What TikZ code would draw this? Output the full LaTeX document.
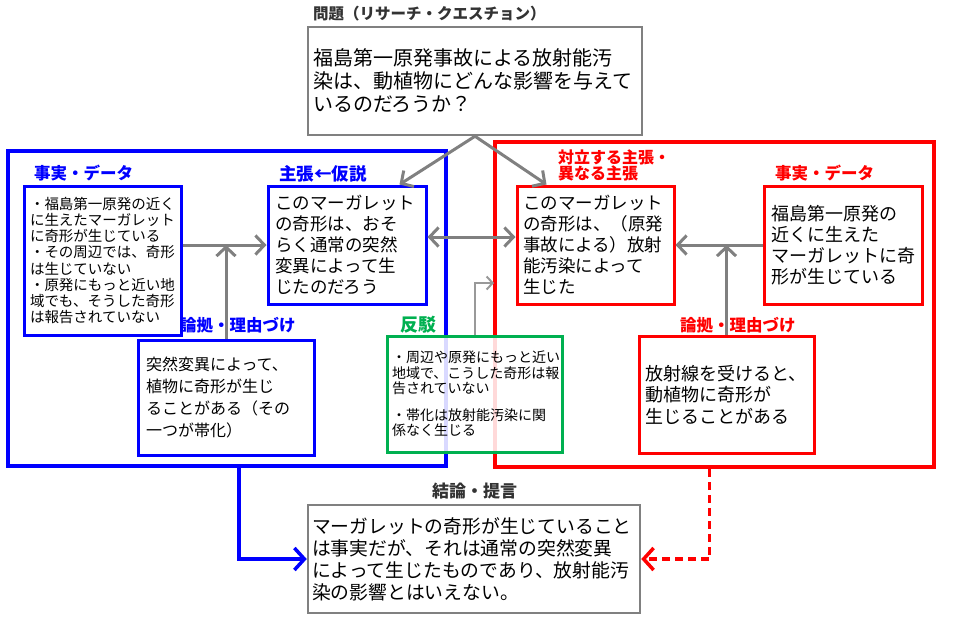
\documentclass[tikz,border=0pt]{standalone}
\usepackage{fontspec}
\setmainfont{Noto Sans CJK JP}
\usetikzlibrary{arrows.meta,positioning}
\definecolor{linkgray}{RGB}{128,128,128}
\definecolor{rebutgreen}{RGB}{0,176,80}
\definecolor{titlegray}{RGB}{51,51,51}
\tikzset{every frame/.style={line width=4pt, minimum height=315pt},
        support frame/.style={every frame, draw=blue, minimum width=438pt},
        oppose frame/.style={every frame, draw=red, minimum width=439pt, minimum height=325pt},
        every box/.style={fill=white, align=left, line width=3pt, inner sep=0pt},
        gray box/.style={every box, draw=linkgray, line width=2.5pt},
        support box/.style={every box, draw=blue},
        oppose box/.style={every box, draw=red},
        rebuttal box/.style={every box, draw=rebutgreen, fill opacity=0.85, text opacity=1},
        heading/.style={anchor=west, align=left, inner sep=0pt, font=\bfseries\fontsize{16.5}{16.5}\selectfont},
        link/.style={draw=linkgray, line width=3pt, -{Straight Barb[length=9pt,width=19pt]}},
        }

\begin{document}
\begin{tikzpicture}[x=1pt,y=-1pt]
    \useasboundingbox (0,0) rectangle (953,638);

    \node[support frame] (supportframe) at (227,308) {};
    \node[oppose frame] (opposeframe) at (714.5,304.5) {};

    \node[heading, text=titlegray, font=\bfseries\fontsize{15.5}{15.5}\selectfont] (questionhead) at (313,14) {問題（リサーチ・クエスチョン）};
    \node[gray box, minimum width=334pt, minimum height=108pt, text width=324pt,
          font=\fontsize{20}{23}\selectfont] (question) at (475,81)
        {福島第一原発事故による放射能汚\\染は、動植物にどんな影響を与えて\\いるのだろうか？};

    \node[heading, text=blue] (facthead) at (34,173) {事実・データ};
    \node[support box, minimum width=157pt, minimum height=149pt, text width=145pt,
          font=\fontsize{14.5}{16.2}\selectfont] (fact) at (102.5,260.5)
        {・福島第一原発の近く\\に生えたマーガレット\\に奇形が生じている\\・その周辺では、奇形\\は生じていない\\・原発にもっと近い地\\域でも、そうした奇形\\は報告されていない};

    \node[heading, text=blue, font=\bfseries\fontsize{17.5}{17.5}\selectfont] (claimhead) at (279,174) {主張←仮説};
    \node[support box, minimum width=158pt, minimum height=118pt, text width=144pt,
          font=\fontsize{17.5}{21}\selectfont] (claim) at (347,245)
        {このマーガレット\\の奇形は、おそ\\らく通常の突然\\変異によって生\\じたのだろう};

    \node[heading, text=blue] (warranthead) at (180,325) {論拠・理由づけ};
    \node[support box, minimum width=176pt, minimum height=115pt, text width=160pt,
          font=\fontsize{16}{22}\selectfont] (warrant) at (226,397.5)
        {突然変異によって、\\植物に奇形が生じ\\ることがある（その\\一つが帯化）};

    \node[heading, text=rebutgreen, font=\bfseries\fontsize{18}{18}\selectfont] (rebuttalhead) at (400,325) {反駁};

    \node[heading, text=red, font=\bfseries\fontsize{16}{16}\selectfont] (opposehead) at (558,165) {対立する主張・\\異なる主張};
    \node[oppose box, minimum width=157pt, minimum height=118pt, text width=145pt,
          font=\fontsize{17.5}{21}\selectfont] (oppose) at (595.5,245)
        {このマーガレット\\の奇形は、（原発\\事故による）放射\\能汚染によって\\生じた};

    \node[heading, text=red] (redfacthead) at (775,173) {事実・データ};
    \node[oppose box, minimum width=158pt, minimum height=118pt, text width=144pt,
          font=\fontsize{18}{21}\selectfont] (redfact) at (843,245)
        {福島第一原発の\\近くに生えた\\マーガレットに奇\\形が生じている};

    \node[heading, text=red] (redwarranthead) at (680,325) {論拠・理由づけ};
    \node[oppose box, minimum width=175pt, minimum height=117pt, text width=163pt,
          font=\fontsize{18}{21.5}\selectfont] (redwarrant) at (726.5,394.5)
        {放射線を受けると、\\動植物に奇形が\\生じることがある};

    \node[rebuttal box, minimum width=175pt, minimum height=116pt, text width=165pt,
          font=\fontsize{14}{15.5}\selectfont] (rebuttal) at (474.5,394)
        {・周辺や原発にもっと近い\\地域で、こうした奇形は報\\告されていない\\[11pt]・帯化は放射能汚染に関\\係なく生じる};

    \node[heading, text=titlegray, font=\bfseries\fontsize{17}{17}\selectfont] (conclusionhead) at (432,491) {結論・提言};
    \node[gray box, minimum width=332pt, minimum height=108pt, text width=324pt,
          font=\fontsize{18.8}{22}\selectfont] (conclusion) at (474,559)
        {マーガレットの奇形が生じていること\\は事実だが、それは通常の突然変異\\によって生じたものであり、放射能汚\\染の影響とはいえない。};

    \draw [link] (question.south) -- ([xshift=-28pt]claim.north east);
    \draw [link] (question.south) -- ([xshift=31pt]oppose.north west);

    \draw [link] (fact.east |- claim.west) -- (claim.west);
    \draw [link] (warrant.north) -- (warrant.north |- claim.west);
    \draw [link] (redfact.west) -- (oppose.east);
    \draw [link] (redwarrant.north) -- (redwarrant.north |- redfact.west);
    \draw [link, {Straight Barb[length=9pt,width=19pt]}-{Straight Barb[length=9pt,width=19pt]}]
        ([yshift=8pt]claim.east) -- ([yshift=8pt]oppose.west);

    \coordinate (rebuttalhit) at (494,283);
    \draw [link, draw=linkgray!80, line width=2pt, -{Straight Barb[length=6pt,width=13pt]}]
        (rebuttal.north) |- (rebuttalhit);

    \draw [link, draw=blue, line width=3.5pt, -{Straight Barb[length=10pt,width=22pt]}]
        ([xshift=12pt]supportframe.south) |- (conclusion.west);
    \draw [link, draw=red, line width=3.5pt, dash pattern=on 8pt off 5pt, -{Straight Barb[length=10pt,width=22pt]}]
        ([xshift=-5pt]opposeframe.south) |- (conclusion.east);

\end{tikzpicture}
\end{document}
